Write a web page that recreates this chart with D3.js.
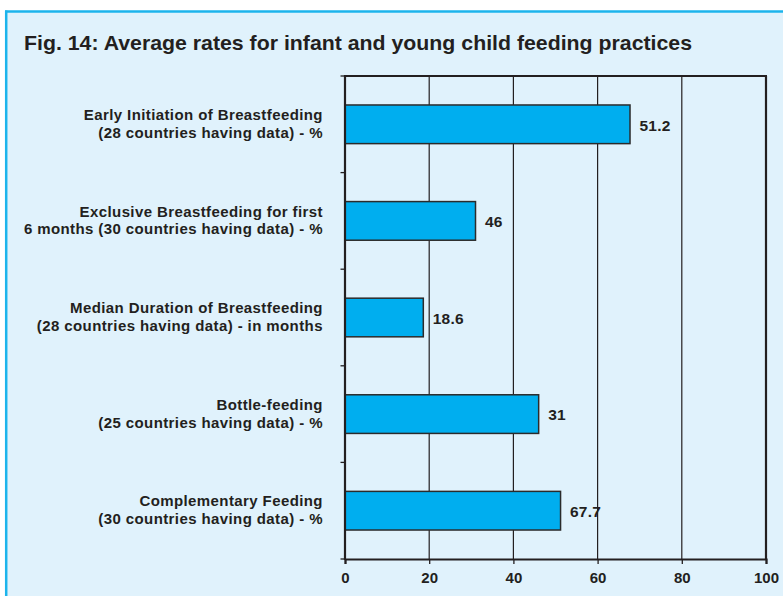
<!DOCTYPE html>
<html>
<head>
<meta charset="utf-8">
<script src="https://cdn.jsdelivr.net/npm/d3@7"></script>
<style>
  html, body { margin: 0; padding: 0; background: #ffffff; }
  svg { display: block; }
  text { font-family: "Liberation Sans", Arial, Helvetica, sans-serif; font-weight: bold; fill: #231f20; }
</style>
</head>
<body>
<svg id="chart" width="783" height="596"></svg>
<script>
// ---- data ----
const titleText = "Fig. 14: Average rates for infant and young child feeding practices";
const categoryLines = [
  ["Early Initiation of Breastfeeding", "(28 countries having data) - %"],
  ["Exclusive Breastfeeding for first", "6 months (30 countries having data) - %"],
  ["Median Duration of Breastfeeding", "(28 countries having data) - in months"],
  ["Bottle-feeding", "(25 countries having data) - %"],
  ["Complementary Feeding", "(30 countries having data) - %"]
];
const categories = ["Early Initiation", "Exclusive BF", "Median Duration", "Bottle-feeding", "Complementary"];
// bar lengths as drawn in the figure
const barValues = [67.7, 31, 18.6, 46, 51.2];
// value labels as printed in the figure
const valueLabels = ["51.2", "46", "18.6", "31", "67.7"];
const xTicks = [0, 20, 40, 60, 80, 100];

// ---- layout ----
const svg = d3.select("#chart");
const W = 783, H = 596;
const plot = { left: 345, right: 766, top: 76, bottom: 559 };

// background panel
svg.append("rect").attr("x", 6).attr("y", 12).attr("width", W - 6).attr("height", H - 12).attr("fill", "#e0f2fc");
svg.append("line").attr("x1", 5).attr("x2", W).attr("y1", 11.5).attr("y2", 11.5).attr("stroke", "#1cb4ec").attr("stroke-width", 2.5);
svg.append("line").attr("x1", 6.2).attr("x2", 6.2).attr("y1", 10.5).attr("y2", H).attr("stroke", "#1cb4ec").attr("stroke-width", 2.5);

// title
svg.append("text")
  .attr("x", 24).attr("y", 49.5)
  .attr("font-size", 21)
  .attr("textLength", 668)
  .attr("lengthAdjust", "spacingAndGlyphs")
  .text(titleText);

// scales
const x = d3.scaleLinear().domain([0, 100]).range([plot.left, plot.right]);
const y = d3.scaleBand().domain(categories).range([plot.top, plot.bottom]).paddingInner(0.6).paddingOuter(0.3);
const step = y.step();

// gridlines
svg.append("g").selectAll("line").data(xTicks.filter(d => d > 0 && d < 100)).join("line")
  .attr("x1", d => x(d)).attr("x2", d => x(d))
  .attr("y1", plot.top).attr("y2", plot.bottom)
  .attr("stroke", "#231f20").attr("stroke-width", 1.2);

// bars
svg.append("g").selectAll("rect").data(categories).join("rect")
  .attr("x", x(0))
  .attr("y", d => y(d))
  .attr("width", (d, i) => x(barValues[i]) - x(0))
  .attr("height", y.bandwidth())
  .attr("fill", "#00aeef")
  .attr("stroke", "#2b2b2b")
  .attr("stroke-width", 1.5);

// frame: top and right
svg.append("line").attr("x1", plot.left).attr("x2", plot.right + 1).attr("y1", plot.top).attr("y2", plot.top)
  .attr("stroke", "#231f20").attr("stroke-width", 2);
svg.append("line").attr("x1", plot.right).attr("x2", plot.right).attr("y1", plot.top).attr("y2", plot.bottom)
  .attr("stroke", "#231f20").attr("stroke-width", 2.2);

// bottom axis
const xAxis = d3.axisBottom(x).tickValues(xTicks).tickSize(5).tickPadding(8).tickFormat(d3.format("d"));
const gx = svg.append("g").attr("transform", `translate(0,${plot.bottom})`).call(xAxis);
gx.select(".domain").attr("stroke", "#231f20").attr("stroke-width", 2.2);
gx.selectAll(".tick line").attr("stroke", "#231f20").attr("stroke-width", 1.3);
gx.selectAll(".tick text").attr("font-size", 15).attr("font-family", null).attr("fill", "#231f20").attr("dy", "0.71em");

// left axis: line + ticks at band boundaries
const boundaries = d3.range(categories.length + 1).map(i => plot.top + i * step);
svg.append("g").selectAll("line").data(boundaries).join("line")
  .attr("x1", plot.left - 4.5).attr("x2", plot.left)
  .attr("y1", d => d).attr("y2", d => d)
  .attr("stroke", "#231f20").attr("stroke-width", 1.3);
svg.append("line").attr("x1", plot.left).attr("x2", plot.left).attr("y1", plot.top - 1).attr("y2", plot.bottom + 1)
  .attr("stroke", "#231f20").attr("stroke-width", 2.2);

// category labels
const labelG = svg.append("g");
const lx = plot.left - 22.1;
categories.forEach((c, i) => {
  const cy = y(c) + y.bandwidth() / 2;
  const t = labelG.append("text")
    .attr("text-anchor", "end")
    .attr("font-size", 15)
    .attr("letter-spacing", 0.4)
    .attr("x", lx);
  t.append("tspan").attr("x", lx).attr("y", cy - 4.3).text(categoryLines[i][0]);
  t.append("tspan").attr("x", lx).attr("y", cy + 13.4).text(categoryLines[i][1]);
});

// value labels
svg.append("g").selectAll("text").data(categories).join("text")
  .attr("x", (d, i) => x(barValues[i]) + 9.5)
  .attr("y", d => y(d) + y.bandwidth() / 2 + 6.2)
  .attr("font-size", 15.5)
  .attr("letter-spacing", 0.2)
  .text((d, i) => valueLabels[i]);
</script>
</body>
</html>
